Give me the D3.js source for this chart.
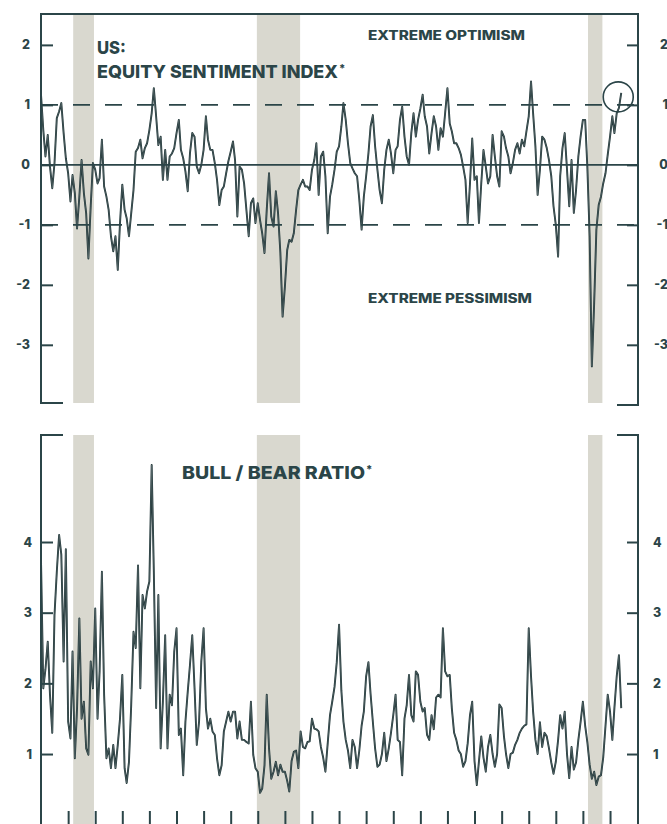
<!DOCTYPE html>
<html>
<head>
<meta charset="utf-8">
<script src="https://cdn.jsdelivr.net/npm/d3@7"></script>
<style>
  html, body { margin: 0; padding: 0; background: #fff; }
  svg { display: block; }
  .lbl { font-family: Inter, Lato, "Open Sans", sans-serif; font-weight: 800; fill: #2b4548; }
</style>
</head>
<body>
<div id="chart"></div>
<script>
// monthly readings, Jan 2000 onwards
const startDate = new Date(2000, 0, 1);

const sentiment = [
  1.17, 0.58, 0.14, 0.50, -0.03, -0.39, 0.03, 0.78, 0.89, 1.03,
  0.53, 0.11, -0.14, -0.61, -0.17, -0.47, -1.06, -0.53, 0.08, -0.47,
  -0.81, -1.56, -0.69, 0.03, -0.08, -0.31, -0.22, 0.42, -0.36, -0.53,
  -0.75, -1.19, -1.44, -1.19, -1.75, -0.97, -0.33, -0.75, -0.89, -1.19,
  -0.81, -0.42, 0.22, 0.28, 0.42, 0.11, 0.28, 0.36, 0.58, 0.86,
  1.28, 0.81, 0.33, 0.47, -0.25, 0.25, -0.25, 0.14, 0.19, 0.28,
  0.53, 0.75, 0.25, 0.11, -0.11, -0.44, 0.19, 0.53, 0.47, -0.03,
  -0.14, 0.0, 0.25, 0.81, 0.42, 0.25, 0.25, 0.03, -0.25, -0.67,
  -0.42, -0.36, -0.14, 0.06, 0.22, 0.39, 0.08, -0.86, -0.03,
  -0.08, -0.31, -0.75, -1.19, -0.64, -0.56, -0.97, -0.64, -0.92, -1.14,
  -1.47, -0.75, -0.14, -0.86, -1.03, -0.44, -0.81, -1.47, -2.53, -2.03,
  -1.42, -1.25, -1.28, -1.14, -0.75, -0.42, -0.33, -0.25, -0.36, -0.36,
  -0.42, -0.08, 0.08, 0.36, -0.50, 0.14, 0.22, -0.19, -1.14, -0.53,
  -0.33, -0.08, 0.22, 0.31, 0.64, 1.03, 0.75, 0.36, 0.03, -0.06,
  -0.14, -0.19, -0.58, -1.08, -0.53, -0.19, 0.19, 0.64, 0.83, 0.31,
  -0.08, -0.42, -0.64, -0.08, 0.25, 0.42, 0.19, -0.14, 0.25, 0.31,
  0.75, 0.97, 0.47, 0.14, 0.0, 0.53, 0.86, 0.47, 0.75, 0.94,
  1.17, 0.81, 0.64, 0.19, 0.53, 0.81, 0.64, 0.25,
  0.61, 0.47, 0.86, 1.28, 0.69, 0.56, 0.36, 0.36, 0.28, 0.17,
  -0.03, -0.25, -0.97, -0.31, 0.44, -0.25, -0.19, -0.97, -0.31, 0.25,
  -0.03, -0.31, -0.19, 0.50, 0.14, -0.19, -0.36, 0.56, 0.47, 0.28,
  0.14, -0.14, 0.03, 0.25, 0.36, 0.19, 0.42, 0.31, 0.56, 0.81,
  1.39, 0.86, 0.31, -0.50, -0.08, 0.47, 0.42, 0.28, 0.08, -0.19,
  -0.69, -1.0, -1.53, -0.19, 0.28, 0.53, -0.08, -0.69, 0.08, -0.80,
  -0.42, 0.14, 0.47, 0.75, 0.75, -0.03, -1.19, -3.36, -2.31, -1.08,
  -0.67, -0.53, -0.31, -0.14, 0.17, 0.47, 0.81, 0.53, 0.86, 0.95,
  1.2
];

const bullBear = [
  3.75, 1.93, 2.2, 2.59, 1.84, 1.3, 2.97, 3.58, 4.10, 3.82,
  2.31, 3.9, 1.46, 1.22, 2.45, 0.94, 1.65, 2.92, 1.5, 1.74,
  1.08, 0.99, 2.31, 1.93, 3.06, 1.5, 2.17, 3.58, 1.84, 0.94,
  1.08, 0.80, 1.13, 0.80, 1.13, 1.50, 2.12, 0.80, 0.59, 0.89,
  1.69, 2.73, 2.50, 3.67, 1.93, 3.25, 3.06, 3.30, 3.44, 5.09,
  3.58, 1.65, 3.25, 1.08, 1.74, 2.68, 1.08, 1.84, 1.69, 2.45,
  2.78, 1.27, 1.36, 0.70, 1.46, 1.88, 2.26, 2.68, 1.93, 1.13,
  1.46, 2.31, 2.78, 1.65, 1.36, 1.50, 1.32, 1.27, 0.94, 0.70,
  0.84, 1.32, 1.46, 1.60, 1.46, 1.60, 1.60, 1.22, 1.46,
  1.2, 1.2, 1.17, 1.15, 1.74, 0.99, 0.80, 0.75, 0.45, 0.51,
  0.84, 1.84, 1.08, 0.65, 0.75, 0.89, 0.70, 0.85, 0.75, 0.75,
  0.62, 0.47, 0.9, 1.03, 1.05, 0.8, 1.32, 1.1, 1.08, 1.17,
  1.18, 1.5, 1.36, 1.35, 1.32, 1.1, 0.95, 0.75, 1.15, 1.55,
  1.74, 1.95, 2.3, 2.83, 1.9, 1.46, 1.2, 1.05, 0.80, 1.2,
  1.1, 0.80, 1.05, 1.4, 1.6, 2.1, 2.3, 1.85, 1.45, 1.08,
  0.82, 0.85, 1.0, 1.3, 0.9, 1.08, 1.3, 1.55, 1.84, 1.2,
  1.17, 0.70, 1.5, 1.69, 2.12, 1.55, 1.46, 2.17, 2.12, 1.74,
  1.6, 1.65, 1.27, 1.2, 1.55, 1.35, 1.8, 1.84,
  1.8, 2.78, 2.17, 2.1, 2.12, 1.65, 1.3, 1.2, 1.05, 1.0,
  0.82, 0.9, 1.15, 1.55, 1.74, 0.9, 0.56, 0.9, 1.25, 0.95,
  0.75, 1.1, 1.27, 1.0, 0.82, 1.0, 1.7, 1.65, 1.25, 1.0,
  0.80, 1.0, 1.02, 1.13, 1.2, 1.3, 1.36, 1.4, 1.42, 2.78,
  2.1, 1.6, 1.2, 1.0, 1.45, 1.1, 1.3, 1.25, 1.08, 0.88,
  0.72, 0.89, 1.2, 1.55, 1.36, 1.6, 1.0, 0.66, 1.1, 0.78,
  0.88, 1.2, 1.45, 1.74, 1.4, 1.17, 0.85, 0.65, 0.75, 0.56,
  0.68, 0.7, 0.95, 1.4, 1.84, 1.6, 1.2, 1.65, 2.1, 2.4,
  1.65
];

// US recessions (shaded)
const recessions = [
  ["2001-03-10", "2001-12-15"],
  ["2007-12-20", "2009-07-25"],
  ["2020-03-10", "2020-09-20"]
];

const sentimentTicks = [2, 1, 0, -1, -2, -3];
const ratioTicks = [4, 3, 2, 1];
const sentimentBands = [1, -1];

const width = 667, height = 824;
const ink = "#2b4548";
const left = 41, right = 638;

const svg = d3.select("#chart").append("svg")
  .attr("width", width)
  .attr("height", height);

const x = d3.scaleTime()
  .domain([startDate, new Date(2022, 0, 13)])
  .range([left, right]);

const yTop = d3.scaleLinear().domain([-3.97, 2.515]).range([403, 14]);
const yBot = d3.scaleLinear().domain([0, 5.5]).range([824.7, 436]);

const toSeries = arr => arr.map((v, i) => ({ date: d3.timeMonth.offset(startDate, i), value: v }));
const parse = d3.timeParse("%Y-%m-%d");
const plain = d => String(d);   // short hyphen for negatives, as in the original

function panel(y, data, y0, y1) {
  const g = svg.append("g");

  // recession bands
  g.selectAll("rect.band")
    .data(recessions)
    .enter()
    .append("rect")
    .attr("x", d => x(parse(d[0])))
    .attr("width", d => x(parse(d[1])) - x(parse(d[0])))
    .attr("y", y0)
    .attr("height", y1 - y0)
    .attr("fill", "#d9d8cf");

  const line = d3.line()
    .x(d => x(d.date))
    .y(d => y(d.value));

  g.append("path")
    .datum(toSeries(data))
    .attr("d", line)
    .attr("fill", "none")
    .attr("stroke", "#1d3335")
    .attr("stroke-width", 1.9)
    .attr("stroke-linejoin", "round");

  g.append("path")
    .datum(toSeries(data))
    .attr("d", line)
    .attr("fill", "none")
    .attr("stroke", "#6f7d7e")
    .attr("stroke-width", 0.5)
    .attr("stroke-linejoin", "round");

  return g;
}

// ---------- top panel: equity sentiment index ----------
const topPanel = panel(yTop, sentiment, 14, 403);

topPanel.append("line")
  .attr("x1", left).attr("x2", right)
  .attr("y1", yTop(0)).attr("y2", yTop(0))
  .attr("stroke", ink).attr("stroke-width", 1.6);

topPanel.selectAll("line.band")
  .data(sentimentBands)
  .enter()
  .append("line")
  .attr("x1", left).attr("x2", right)
  .attr("y1", d => yTop(d)).attr("y2", d => yTop(d))
  .attr("stroke", ink)
  .attr("stroke-width", 1.6)
  .attr("stroke-dasharray", "17,15");

// frame: top line, side axes, short brackets at the bottom
topPanel.append("path")
  .attr("d", `M${left + 22},403 H${left} V14 H${right} V405 H${right - 21}`)
  .attr("fill", "none")
  .attr("stroke", ink)
  .attr("stroke-width", 2);

const topLeftAxis = topPanel.append("g")
  .attr("transform", `translate(${left},0)`)
  .call(d3.axisLeft(yTop).tickValues(sentimentTicks).tickSize(-12).tickPadding(11).tickFormat(plain));
const topRightAxis = topPanel.append("g")
  .attr("transform", `translate(${right},0)`)
  .call(d3.axisRight(yTop).tickValues(sentimentTicks).tickSize(-11).tickPadding(14).tickFormat(plain));

// circle on the latest reading
const last = toSeries(sentiment).slice(-1)[0];
topPanel.append("circle")
  .attr("cx", x(last.date) - 3)
  .attr("cy", yTop(last.value) + 4)
  .attr("r", 15)
  .attr("fill", "none")
  .attr("stroke", ink)
  .attr("stroke-width", 1.6);

topPanel.append("text").attr("class", "lbl")
  .attr("x", 97).attr("y", 54)
  .attr("font-size", 18)
  .attr("textLength", 29).attr("lengthAdjust", "spacingAndGlyphs")
  .text("US:");
topPanel.append("text").attr("class", "lbl")
  .attr("x", 97).attr("y", 78)
  .attr("font-size", 18)
  .attr("textLength", 241).attr("lengthAdjust", "spacingAndGlyphs")
  .text("EQUITY SENTIMENT INDEX");
topPanel.append("text").attr("class", "lbl")
  .attr("x", 339).attr("y", 72)
  .attr("font-size", 11)
  .text("*");

topPanel.append("text").attr("class", "lbl")
  .attr("x", 368).attr("y", 40)
  .attr("font-size", 12.5)
  .attr("textLength", 157).attr("lengthAdjust", "spacingAndGlyphs")
  .text("EXTREME OPTIMISM");
topPanel.append("text").attr("class", "lbl")
  .attr("x", 368).attr("y", 303)
  .attr("font-size", 12.5)
  .attr("textLength", 164).attr("lengthAdjust", "spacingAndGlyphs")
  .text("EXTREME PESSIMISM");

// ---------- bottom panel: bull / bear ratio ----------
const botPanel = panel(yBot, bullBear, 435, 826);

botPanel.append("path")
  .attr("d", `M${left + 22},435 H${left} V826`)
  .attr("fill", "none")
  .attr("stroke", ink)
  .attr("stroke-width", 2);
botPanel.append("path")
  .attr("d", `M${right - 21},435 H${right} V826`)
  .attr("fill", "none")
  .attr("stroke", ink)
  .attr("stroke-width", 2);

const botLeftAxis = botPanel.append("g")
  .attr("transform", `translate(${left},0)`)
  .call(d3.axisLeft(yBot).tickValues(ratioTicks).tickSize(-12).tickPadding(9).tickFormat(plain));
const botRightAxis = botPanel.append("g")
  .attr("transform", `translate(${right},0)`)
  .call(d3.axisRight(yBot).tickValues(ratioTicks).tickSize(-11).tickPadding(15).tickFormat(plain));

const xAxis = botPanel.append("g")
  .attr("transform", "translate(0,826)")
  .call(d3.axisBottom(x)
    .tickValues(d3.timeYear.range(new Date(2001, 0, 1), new Date(2022, 0, 1)))
    .tickSize(-15)
    .tickFormat(""));

botPanel.append("text").attr("class", "lbl")
  .attr("x", 182).attr("y", 479)
  .attr("font-size", 18)
  .attr("textLength", 183).attr("lengthAdjust", "spacingAndGlyphs")
  .text("BULL / BEAR RATIO");
botPanel.append("text").attr("class", "lbl")
  .attr("x", 366).attr("y", 473)
  .attr("font-size", 11)
  .text("*");

// common axis styling
[topLeftAxis, topRightAxis, botLeftAxis, botRightAxis, xAxis].forEach(a => {
  a.select(".domain").remove();
  a.selectAll(".tick line").attr("stroke", ink).attr("stroke-width", 2);
  a.selectAll(".tick text")
    .attr("fill", ink)
    .style("font-family", "Inter, Lato, 'Open Sans', sans-serif")
    .style("font-weight", 800)
    .style("font-size", "12.5px");
});
topRightAxis.selectAll(".tick text").attr("text-anchor", "end").attr("x", 30);
</script>
</body>
</html>
